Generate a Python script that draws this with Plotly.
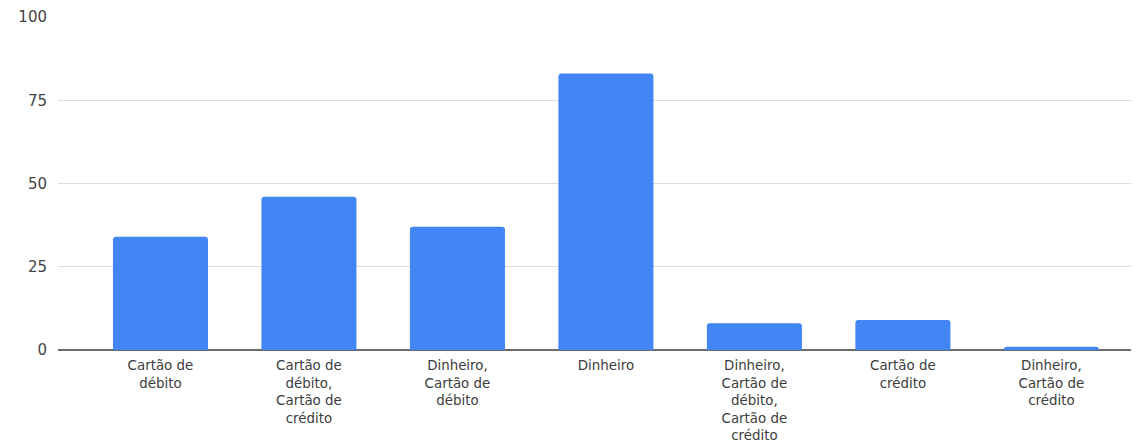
import plotly.graph_objects as go

categories = [
    "Cartão de<br>débito",
    "Cartão de<br>débito,<br>Cartão de<br>crédito",
    "Dinheiro,<br>Cartão de<br>débito",
    "Dinheiro",
    "Dinheiro,<br>Cartão de<br>débito,<br>Cartão de<br>crédito",
    "Cartão de<br>crédito",
    "Dinheiro,<br>Cartão de<br>crédito",
]
values = [34, 46, 37, 83, 8, 9, 1]
y_ticks = [0, 25, 50, 75, 100]

fig = go.Figure(
    go.Bar(
        x=list(range(len(categories))),
        y=values,
        marker=dict(color="#4285F4", line=dict(width=0), cornerradius=3),
        width=0.64,
        hoverinfo="skip",
    )
)

fig.update_layout(
    width=1131,
    height=436,
    margin=dict(l=50, r=0, t=9, b=94),
    paper_bgcolor="white",
    plot_bgcolor="white",
    showlegend=False,
    font=dict(family="DejaVu Sans", size=13.4, color="#444444"),
)
fig.update_xaxes(
    tickmode="array",
    tickvals=list(range(len(categories))),
    ticktext=categories,
    range=[-0.69, 6.59],
    showgrid=False,
    showline=False,
    zeroline=False,
    ticks="",
    tickangle=0,
    ticklabelstandoff=6,
    fixedrange=True,
    tickfont=dict(size=13.4, color="#3c3c3c"),
)
fig.update_yaxes(
    range=[0, 100],
    tickmode="array",
    tickvals=y_ticks,
    ticktext=[str(t) for t in y_ticks],
    showgrid=True,
    gridcolor="#dcdcdc",
    gridwidth=1,
    zeroline=True,
    zerolinecolor="#6b6b6b",
    zerolinewidth=1.5,
    ticks="",
    ticklabelstandoff=10,
    showline=False,
    fixedrange=True,
    tickfont=dict(size=15, color="#444444"),
)

fig.write_html("out.html")
